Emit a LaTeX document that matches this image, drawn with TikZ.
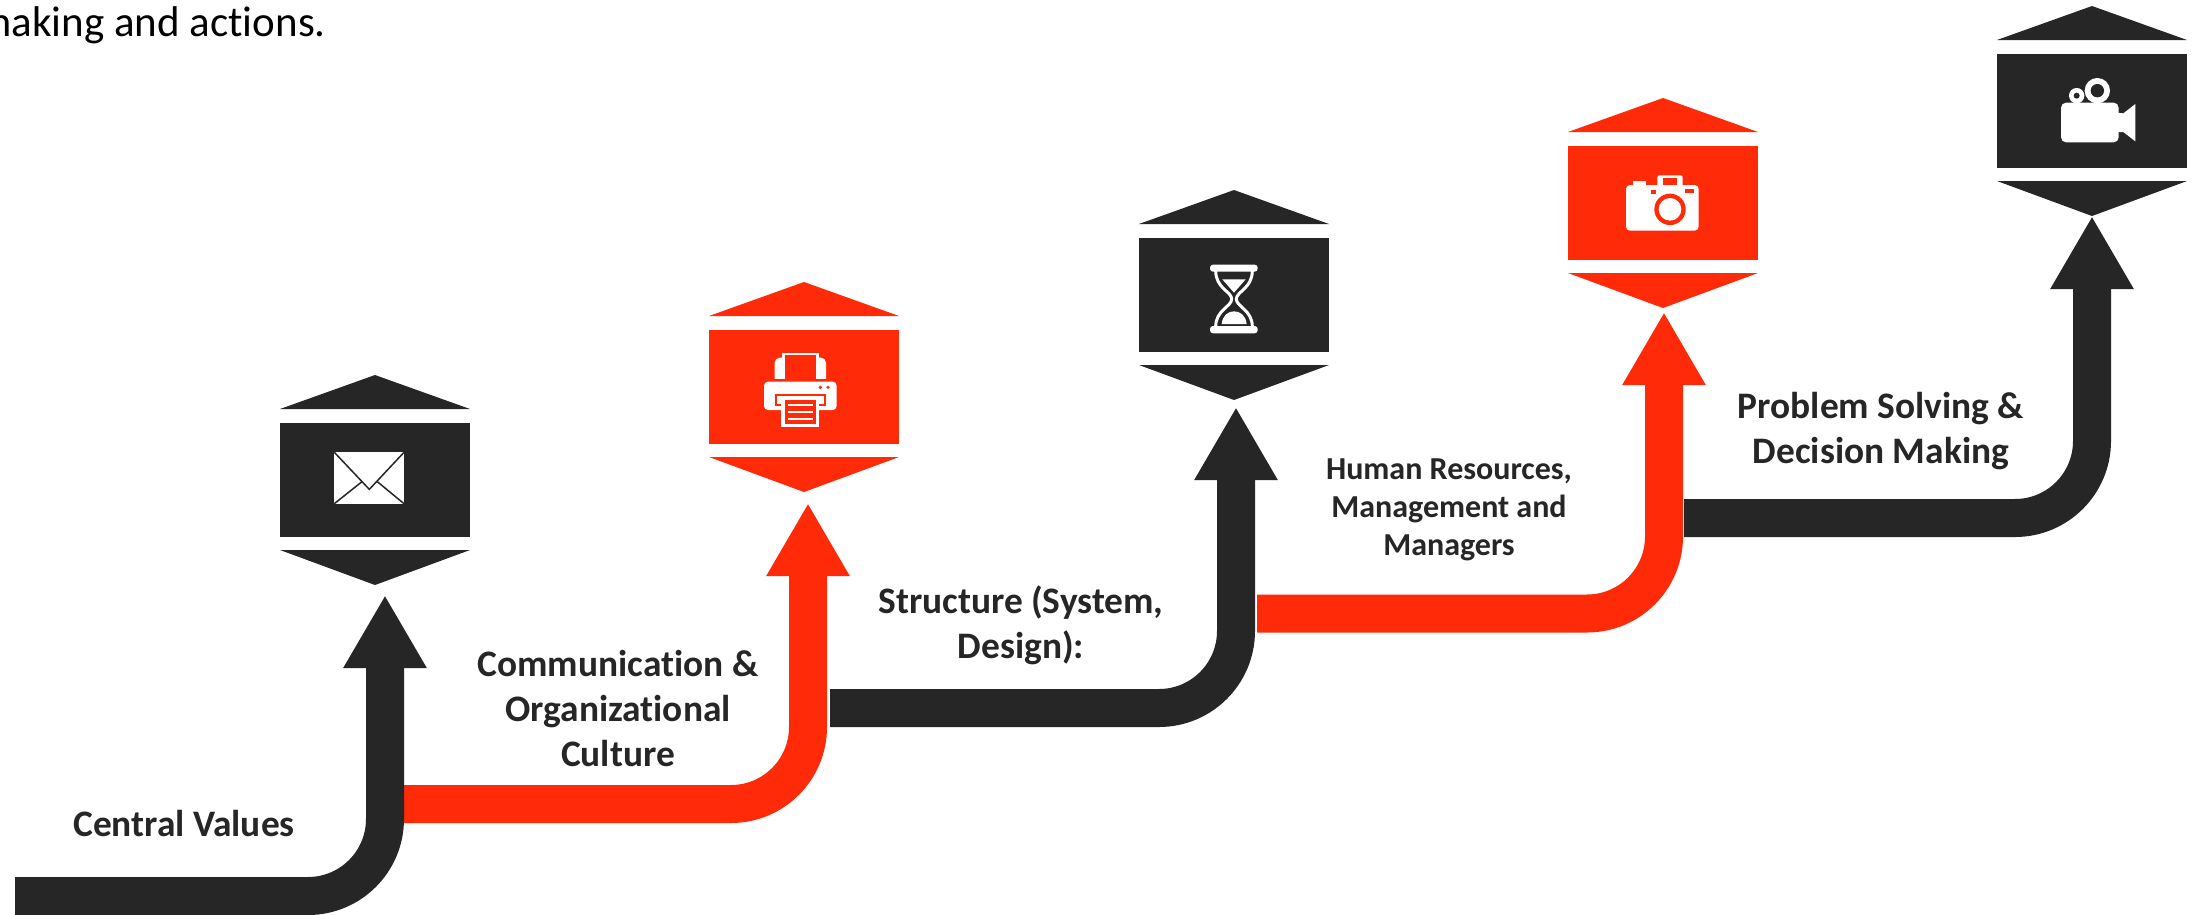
\documentclass[tikz,border=0pt]{standalone}
\usepackage{fontspec}
\setmainfont[Ligatures=NoCommon]{Carlito}
\usetikzlibrary{arrows.meta}
\definecolor{inkdark}{HTML}{262626}
\definecolor{inkred}{HTML}{FF2A07}
\tikzset{
  flow/.style={line width=38pt,rounded corners=77pt},
  headdark/.style={-{Triangle[length=73pt,width=78pt,sep=0pt,fill=inkdark]}},
  headred/.style={-{Triangle[length=73pt,width=78pt,sep=0pt,fill=inkred]}},
  hexbody/.style={draw=none,minimum width=190pt,minimum height=114pt,inner sep=0pt,outer sep=0pt},
  lab/.style={text=inkdark,align=center,font=\fontsize{37.4}{45}\selectfont\bfseries,inner sep=0pt},
  labsmall/.style={text=inkdark,align=center,font=\fontsize{32}{38}\selectfont\bfseries,inner sep=0pt},
  note/.style={text=black,font=\fontsize{43}{50}\selectfont,inner sep=0pt,anchor=base east}
}
\newcommand{\hexa}[4]{%
  \fill[#4] (#2-95,#3-71) -- (#2,#3-105) -- (#2+95,#3-71) -- cycle;
  \fill[#4] (#2-95,#3+70) -- (#2,#3+105) -- (#2+95,#3+70) -- cycle;
  \node[hexbody,fill=#4] (#1) at (#2,#3) {};
}
\begin{document}
\begin{tikzpicture}[x=1pt,y=-1pt]
\useasboundingbox (0,0) rectangle (2201,914);
\fill[white] (0,0) rectangle (2201,914);

% flow arrows
\coordinate (s1) at (15,896);  \coordinate (c1) at (385,896);  \coordinate (t1) at (385,595);
\coordinate (s2) at (404,804); \coordinate (c2) at (808,804);  \coordinate (t2) at (808,503);
\coordinate (s3) at (830,708); \coordinate (c3) at (1236,708); \coordinate (t3) at (1236,407);
\coordinate (s4) at (1257,613.5); \coordinate (c4) at (1664,613.5); \coordinate (t4) at (1664,312);
\coordinate (s5) at (1684,518); \coordinate (c5) at (2092,518); \coordinate (t5) at (2092,216);
\draw[flow,draw=inkred,headred] (s2) -- (c2) -- (t2);
\draw[flow,draw=inkred,headred] (s4) -- (c4) -- (t4);
\draw[flow,draw=inkdark,headdark] (s1) -- (c1) -- (t1);
\draw[flow,draw=inkdark,headdark] (s3) -- (c3) -- (t3);
\draw[flow,draw=inkdark,headdark] (s5) -- (c5) -- (t5);

% hexagons
\hexa{b1}{375}{480}{inkdark}
\hexa{b2}{804}{387}{inkred}
\hexa{b3}{1234}{295}{inkdark}
\hexa{b4}{1663}{203}{inkred}
\hexa{b5}{2092}{111}{inkdark}

% envelope
\begin{scope}[shift={(280,370)},x=0.33333pt,y=-0.33333pt]
  \fill[white] (163,247) rectangle (372,401);
  \draw[inkdark,line width=1.5pt] (163,247) -- (268,358) -- (372,247);
  \draw[inkdark,line width=1.5pt] (163,401) -- (246,335);
  \draw[inkdark,line width=1.5pt] (372,401) -- (292,335);
\end{scope}

% printer
\begin{scope}[shift={(680,270)},x=0.33333pt,y=-0.33333pt]
  \fill[white,rounded corners=5pt] (284,345) -- (284,263) -- (438,263) -- (438,345) -- cycle;
  \fill[white] (305,248) rectangle (416,340);
  \fill[inkred] (314,256) rectangle (408,340);
  \fill[inkred] (270,328) rectangle (450,335);
  \fill[white,rounded corners=4pt] (252,420) -- (252,335) -- (470,335) -- (470,420) -- cycle;
  \fill[inkred] (421,352) circle[radius=5.5];
  \fill[inkred] (444,352) circle[radius=5.5];
  \fill[inkred] (284,372) rectangle (438,407);
  \fill[white] (290,378) rectangle (432,401);
  \fill[white] (304,388) rectangle (417,470);
  \fill[inkred] (314,391) rectangle (408,462);
  \fill[white] (325,402) rectangle (398,409);
  \fill[white] (325,423) rectangle (398,430);
  \fill[white] (325,444) rectangle (398,451);
\end{scope}

% hourglass
\begin{scope}[shift={(1130,180)},x=0.33333pt,y=-0.33333pt]
  \draw[white,line width=3pt] (257,272) .. controls (257,325) and (305,335) .. (305,357) .. controls (305,380) and (257,390) .. (257,440);
  \draw[white,line width=3pt] (367,272) .. controls (367,325) and (319,335) .. (319,357) .. controls (319,380) and (367,390) .. (367,440);
  \fill[white,rounded corners=3pt] (240,254) rectangle (383,275);
  \fill[white,rounded corners=3pt] (240,438) rectangle (383,460);
  \fill[white] (277,298) -- (347,298) -- (312,338) -- cycle;
  \fill[white] (275,432) .. controls (278,405) and (295,394) .. (312,394) .. controls (330,394) and (347,405) .. (350,432) -- cycle;
\end{scope}

% camera
\begin{scope}[shift={(1550,90)},x=0.33333pt,y=-0.33333pt]
  \fill[white,rounded corners=4pt] (228,422) -- (228,285) -- (446,285) -- (446,422) -- cycle;
  \fill[white] (250,272) rectangle (288,290);
  \fill[white,rounded corners=2pt] (322,256) rectangle (398,292);
  \fill[inkred] (338,263) rectangle (382,285);
  \fill[inkred] (304,300) rectangle (318,311);
  \fill[inkred] (405,297) rectangle (433,310);
  \fill[inkred] (360,358) circle[radius=15.7pt];
  \fill[white] (360,358) circle[radius=11.3pt];
\end{scope}

% video camera
\begin{scope}[shift={(1980,0)},x=0.33333pt,y=-0.33333pt]
  \fill[white] (352,272) circle[radius=12.7pt];
  \fill[inkdark] (352,272) circle[radius=6.7pt];
  \fill[white] (290,287) circle[radius=7.7pt];
  \fill[inkdark] (290,287) circle[radius=3pt];
  \fill[white,rounded corners=5pt] (243,427) -- (243,308) -- (416,308) -- (416,427) -- cycle;
  \fill[white] (410,338) -- (430,340) -- (466,312) -- (466,424) -- (430,396) -- (410,396) -- cycle;
\end{scope}

% labels
\node[note] (n0) at (326,36) {making and actions.};
\node[lab] (l1) at (184,824) {Central Values};
\node[lab] (l2) at (618,709) {Communication \&\\Organizational\\Culture};
\node[lab] (l3) at (1021,625) {Structure (System,\\Design):};
\node[labsmall] (l4) at (1449,510) {Human Resources,\\Management and\\Managers};
\node[lab] (l5) at (1881,431) {Problem Solving \&\\Decision Making};
\end{tikzpicture}
\end{document}
